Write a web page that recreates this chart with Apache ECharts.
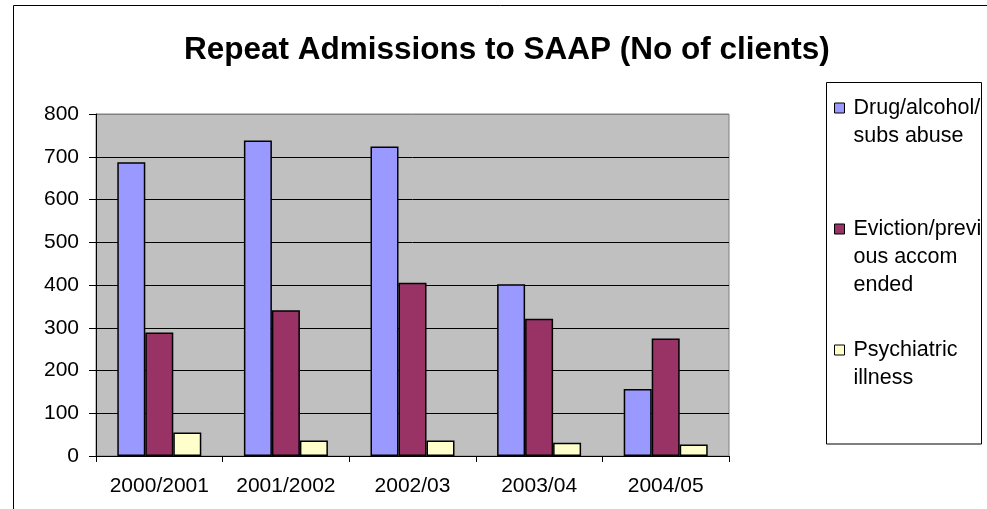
<!DOCTYPE html>
<html>
<head>
<meta charset="utf-8">
<script src="https://cdn.jsdelivr.net/npm/echarts@6/dist/echarts.min.js"></script>
<style>
  html, body { margin: 0; padding: 0; background: #ffffff; }
  #chart { width: 987px; height: 509px; }
</style>
</head>
<body>
<div id="chart"></div>
<script>
// Chart text and values
const titleText = 'Repeat Admissions to SAAP (No of clients)';
const periods = ['2000/2001', '2001/2002', '2002/03', '2003/04', '2004/05'];
const drugAlcohol = [687, 738, 724, 402, 157];
const eviction = [289, 341, 405, 321, 275];
const psychiatric = [55, 36, 36, 31, 27];
const seriesNames = ['Drug/alcohol/subs abuse', 'Eviction/previous accom ended', 'Psychiatric illness'];
const seriesColors = ['#9999FF', '#993366', '#FFFFCC'];
// Legend text as it wraps inside the key box
const legendLines = {
  'Drug/alcohol/subs abuse': ['Drug/alcohol/', 'subs abuse'],
  'Eviction/previous accom ended': ['Eviction/previ', 'ous accom', 'ended'],
  'Psychiatric illness': ['Psychiatric', 'illness']
};
const yMin = 0, yMax = 800, yStep = 100;

const FONT = 'Liberation Sans, Arial, sans-serif';

// Each legend entry is padded to three lines and prefixed with two blank
// lines so the first text line sits level with the swatch.
function legendLabel(name) {
  const lines = legendLines[name].slice();
  while (lines.length < 3) lines.push('');
  return ['', ''].concat(lines).join('\n');
}

const seriesData = [drugAlcohol, eviction, psychiatric];

const chart = echarts.init(document.getElementById('chart'), null, { renderer: 'canvas' });

const splitColors = [];
for (let v = yMin; v <= yMax; v += yStep) splitColors.push(v === yMax ? '#808080' : '#000000');

chart.setOption({
  animation: false,
  backgroundColor: '#ffffff',
  title: {
    text: titleText,
    left: 184,
    top: 34,
    padding: 0,
    textStyle: { fontFamily: FONT, fontSize: 31.5, fontWeight: 'bold', color: '#000' }
  },
  grid: {
    left: 96, right: 258, top: 114, bottom: 53,
    show: true,
    backgroundColor: '#C0C0C0',
    borderColor: '#808080',
    borderWidth: 1
  },
  legend: {
    orient: 'vertical',
    left: 834,
    top: 38,
    padding: 0,
    itemGap: -19,
    itemWidth: 10,
    itemHeight: 10,
    icon: 'rect',
    selectedMode: false,
    itemStyle: { borderColor: '#000', borderWidth: 1 },
    formatter: legendLabel,
    textStyle: { fontFamily: FONT, fontSize: 21.5, color: '#000', lineHeight: 28, padding: [0, 0, 0, 4] },
    data: seriesNames
  },
  xAxis: {
    type: 'category',
    data: periods,
    axisLine: { lineStyle: { color: '#000', width: 1 } },
    axisTick: { show: true, length: 6, lineStyle: { color: '#000' } },
    axisLabel: { fontFamily: FONT, fontSize: 21, color: '#000', margin: 20, interval: 0 },
    splitLine: { show: false }
  },
  yAxis: {
    type: 'value',
    min: yMin, max: yMax, interval: yStep,
    axisLine: { show: true, lineStyle: { color: '#000', width: 1 } },
    axisTick: { show: true, length: 7, lineStyle: { color: '#000' } },
    axisLabel: { fontFamily: FONT, fontSize: 21, color: '#000', margin: 17 },
    splitLine: { show: true, lineStyle: { color: splitColors, width: 1 } }
  },
  series: seriesNames.map((name, i) => ({
    name: name,
    type: 'bar',
    data: seriesData[i],
    barWidth: 28,
    barGap: '0%',
    itemStyle: { color: seriesColors[i], borderColor: '#000', borderWidth: 1.5 },
    emphasis: { disabled: true }
  })),
  graphic: [
    {
      type: 'rect',
      silent: true,
      z: 100,
      shape: { x: 13.5, y: 5.5, width: 1000, height: 600 },
      style: { fill: 'none', stroke: '#000', lineWidth: 1 }
    },
    {
      type: 'rect',
      silent: true,
      z: 100,
      shape: { x: 826.5, y: 82.5, width: 155, height: 361.5 },
      style: { fill: 'none', stroke: '#000', lineWidth: 1 }
    }
  ]
});
</script>
</body>
</html>
